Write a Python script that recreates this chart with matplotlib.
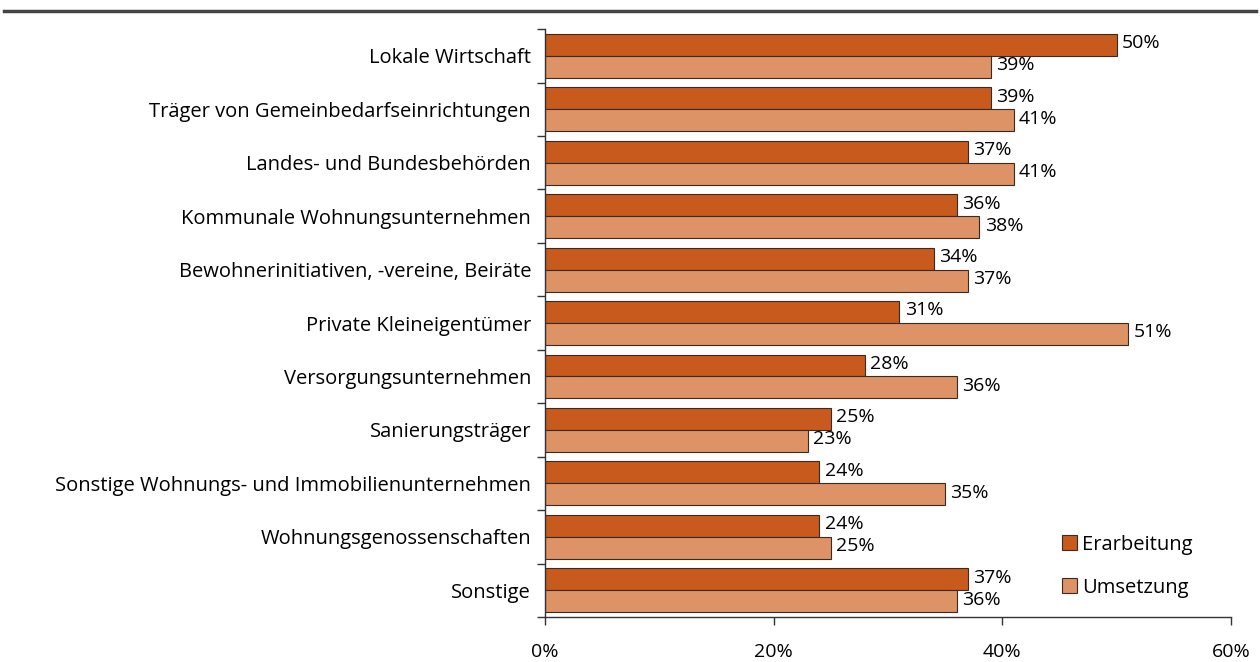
import numpy as np
import matplotlib.pyplot as plt
from matplotlib.lines import Line2D
from matplotlib.patches import Patch

categories = [
    "Lokale Wirtschaft",
    "Träger von Gemeinbedarfseinrichtungen",
    "Landes- und Bundesbehörden",
    "Kommunale Wohnungsunternehmen",
    "Bewohnerinitiativen, -vereine, Beiräte",
    "Private Kleineigentümer",
    "Versorgungsunternehmen",
    "Sanierungsträger",
    "Sonstige Wohnungs- und Immobilienunternehmen",
    "Wohnungsgenossenschaften",
    "Sonstige",
]
erarbeitung = [50, 39, 37, 36, 34, 31, 28, 25, 24, 24, 37]
umsetzung = [39, 41, 41, 38, 37, 51, 36, 23, 35, 25, 36]
xticks = [0, 20, 40, 60]

plt.rcParams['font.family'] = ['Open Sans', 'DejaVu Sans']

c_dark = '#C85A1E'
c_light = '#DE9367'
edge = '#3a2a22'
fs = 14.5

fig = plt.figure(figsize=(12.6, 6.62), dpi=100)
ax = fig.add_axes([0.4325, 0.068, 0.5445, 0.888])

n = len(categories)
y = np.arange(n)
h = 0.41
ax.barh(y - h / 2, erarbeitung, height=h, color=c_dark, edgecolor=edge, linewidth=0.8)
ax.barh(y + h / 2, umsetzung, height=h, color=c_light, edgecolor=edge, linewidth=0.8)

for yi, v in zip(y, erarbeitung):
    ax.text(v + 0.45, yi - h / 2 - 0.03, f"{v}%", va='center', ha='left', fontsize=14)
for yi, v in zip(y, umsetzung):
    ax.text(v + 0.45, yi + h / 2 - 0.03, f"{v}%", va='center', ha='left', fontsize=14)

ax.set_xlim(0, 60)
ax.set_ylim(n - 0.5, -0.5)
ax.set_xticks(xticks)
ax.set_xticklabels([f"{t}%" for t in xticks], fontsize=14)
ax.tick_params(axis='x', length=6, width=1, pad=13, color='#333333')

# labels sit at the category centres, tick marks at the boundaries
ax.set_yticks(y)
ax.set_yticklabels(categories, fontsize=fs)
ax.tick_params(axis='y', length=0, pad=10)
ax.set_yticks(np.arange(n + 1) - 0.5, minor=True)
ax.tick_params(axis='y', which='minor', length=6, width=1, color='#333333')

for s in ['top', 'right']:
    ax.spines[s].set_visible(False)
for s in ['left', 'bottom']:
    ax.spines[s].set_color('#333333')
    ax.spines[s].set_linewidth(1)

handles = [Patch(facecolor=c_dark, edgecolor=edge, linewidth=0.8),
           Patch(facecolor=c_light, edgecolor=edge, linewidth=0.8)]
ax.legend(handles, ['Erarbeitung', 'Umsetzung'], loc='lower left',
          bbox_to_anchor=(0.727, 0.002), frameon=False, fontsize=fs,
          handlelength=0.75, handleheight=0.75, handletextpad=0.25, labelspacing=1.15)

fig.add_artist(Line2D([0.003, 0.997], [0.983, 0.983], color='#444444', linewidth=2.5,
                      transform=fig.transFigure))

fig.savefig('out.png', dpi=100)
